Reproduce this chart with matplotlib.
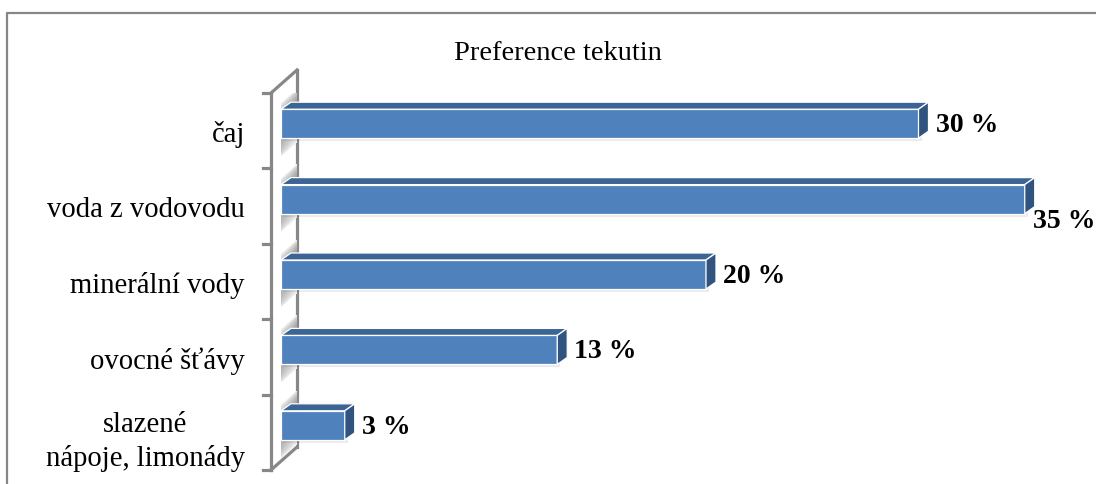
import numpy as np
import matplotlib.pyplot as plt
from matplotlib.patches import Polygon
from matplotlib.lines import Line2D

plt.rcParams['font.family'] = ['Liberation Serif', 'DejaVu Serif']

# Data
categories = ['čaj', 'voda z vodovodu', 'minerální vody', 'ovocné šťávy', 'slazené\nnápoje, limonády']
values = [30, 35, 20, 13, 3]
title = 'Preference tekutin'

W, H = 1096, 484
fig = plt.figure(figsize=(W / 100, H / 100), dpi=100)

# axes box in pixels (front plane of the bars)
ax_left, ax_right, ax_top, ax_bottom = 281, 1046, 93, 470
ax = fig.add_axes([ax_left / W, 1 - ax_bottom / H, (ax_right - ax_left) / W, (ax_bottom - ax_top) / H])
xmax = 36
n = len(categories)
ax.set_xlim(0, xmax)
ax.set_ylim(n - 0.5, -0.5)
ax.axis('off')

ux = (ax_right - ax_left) / xmax      # pixels per x unit
uy = (ax_bottom - ax_top) / n         # pixels per category


def px(dx):
    return dx / ux


def py(dy):
    return dy / uy


# 3D side wall
grey = '#878787'
lw = 2.3
wx0, wx1 = px(-10), px(16)
wdy = py(23)
y0, y1 = -0.5, n - 0.5
wall = Polygon([(wx0, y0), (wx1, y0 - wdy), (wx1, y1 - wdy), (wx0, y1)],
               closed=True, facecolor='white', edgecolor='none', zorder=1)
ax.add_patch(wall)
ax.add_line(Line2D([wx1, wx1], [y0 - wdy, y1 - wdy], color=grey, lw=lw, zorder=2, clip_on=False))

# bar shadows falling on the wall (opaque bands, they cover the back edge)
img_w, img_h = 26, 400
kk, rr = np.meshgrid(np.arange(img_w), np.arange(img_h))
yfront = 70 + rr + kk * (23 / 26)
gray = np.ones((img_h, img_w))
alpha = np.zeros((img_h, img_w))
half = 27
for i in range(n):
    c = ax_top + (i + 0.5) * uy + 7
    t = (yfront - (c - half)) / (2 * half)
    inside = (t >= 0) & (t <= 1)
    s = np.sin(np.pi * np.clip(t, 0, 1)) ** 0.6
    hfac = 0.45 + 0.55 * np.abs(kk / img_w - t)
    gray = np.where(inside, 1 - 0.55 * s * hfac, gray)
    alpha = np.where(inside, 1.0, alpha)
rgba = np.dstack([gray, gray, gray, alpha])
im = ax.imshow(rgba, extent=(wx0, wx1, y1, y0 - wdy), aspect='auto',
               interpolation='bilinear', zorder=3)
im.set_clip_path(wall)

ax.add_line(Line2D([wx0, wx1], [y0, y0 - wdy], color=grey, lw=lw, zorder=4, clip_on=False))
ax.add_line(Line2D([wx0, wx1], [y1, y1 - wdy], color=grey, lw=lw, zorder=4, clip_on=False))
ax.add_line(Line2D([wx0, wx0], [y0, y1], color=grey, lw=lw, zorder=4, clip_on=False))
for t in np.arange(n + 1) - 0.5:
    ax.add_line(Line2D([wx0 - px(8), wx0], [t, t], color=grey, lw=lw, zorder=4, clip_on=False))

# 3D bars
front_c, top_c, side_c = '#4F81BD', '#3C6596', '#30547F'
ddx, ddy = px(10), py(7)
hh = py(14.5)
shift = py(7)
for i, v in enumerate(values):
    yc = i - shift
    yt, yb = yc - hh, yc + hh
    shadow = Polygon([(px(2), yt + py(3)), (v + px(3), yt + py(3)), (v + px(3), yb + py(3)), (px(2), yb + py(3))],
                     closed=True, facecolor='#000000', alpha=0.08, edgecolor='none', zorder=5)
    ax.add_patch(shadow)
    front = Polygon([(0, yt), (v, yt), (v, yb), (0, yb)], closed=True,
                    facecolor=front_c, edgecolor='white', lw=0.9, zorder=6, clip_on=False)
    top = Polygon([(0, yt), (ddx, yt - ddy), (v + ddx, yt - ddy), (v, yt)], closed=True,
                  facecolor=top_c, edgecolor='white', lw=0.9, zorder=6, clip_on=False)
    side = Polygon([(v, yt), (v + ddx, yt - ddy), (v + ddx, yb - ddy), (v, yb)], closed=True,
                   facecolor=side_c, edgecolor='white', lw=0.9, zorder=6, clip_on=False)
    for p in (front, top, side):
        ax.add_patch(p)

    # value label; the longest bar gets its label pushed below the bar end
    if v == max(values):
        lx, ly = v + px(8), yc + py(22)
    else:
        lx, ly = v + px(17), yc + py(2)
    ax.text(lx, ly, f'{v} %', ha='left', va='center', fontsize=20, fontweight='bold',
            color='black', zorder=7, clip_on=False)

# category labels
for i, name in enumerate(categories):
    extra = py(6) if '\n' in name else 0
    ax.text(px(-36), i + py(4) + extra, name, ha='right', va='center', multialignment='center',
            fontsize=20.6, color='black', linespacing=1.32, clip_on=False)

fig.text(558 / W, 1 - 53 / H, title, ha='center', va='center', fontsize=20.5, color='black')

# outer chart frame (only top and left edges fall inside the image)
fig.add_artist(Line2D([7 / W, 7 / W, 1.0], [0.0, 1 - 13 / H, 1 - 13 / H],
                      transform=fig.transFigure, color=grey, lw=1.6))

fig.savefig('out.png', dpi=100)
